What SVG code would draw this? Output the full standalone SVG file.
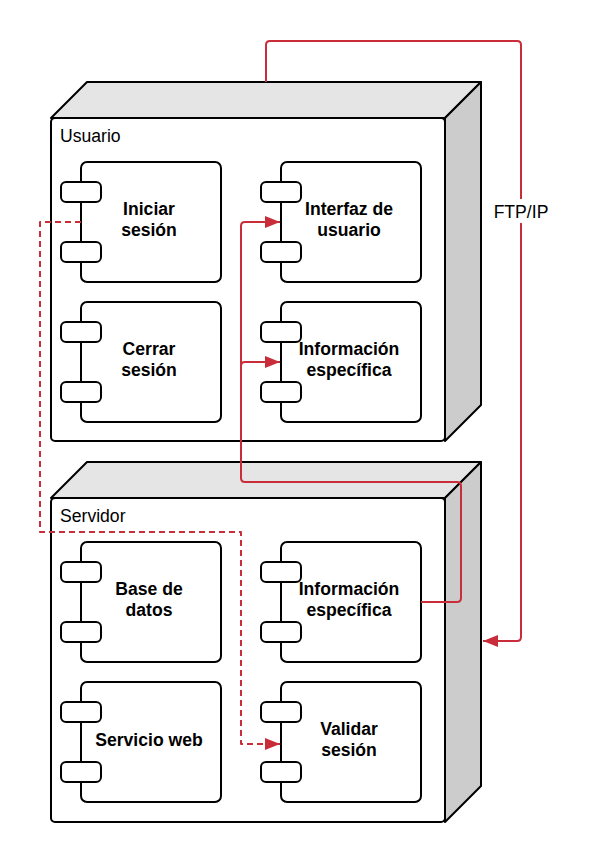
<svg xmlns="http://www.w3.org/2000/svg" width="590" height="862" viewBox="0 0 590 862">
<style>
.face{fill:#fff;stroke:#000;stroke-width:2;stroke-linejoin:round}
.top{fill:#e5e5e5;stroke:#000;stroke-width:2;stroke-linejoin:round}
.side{fill:#cccccc;stroke:#000;stroke-width:2;stroke-linejoin:round}
.comp{fill:#fff;stroke:#000;stroke-width:2}
.port{fill:#fff;stroke:#000;stroke-width:2}
.lbl{font-family:"Liberation Sans",Arial,sans-serif;font-size:17.6px;fill:#000}
.ct{font-family:"Liberation Sans",Arial,sans-serif;font-size:17.6px;font-weight:bold;fill:#000;text-anchor:middle}
.con{fill:none;stroke:#c92d39;stroke-width:2;stroke-linejoin:round}
.dash{stroke-dasharray:6,4}
</style>
<defs>
<marker id="ah" markerWidth="16" markerHeight="12" refX="15" refY="6" orient="auto" markerUnits="userSpaceOnUse">
<path d="M0,0 L15,6 L0,12 Z" fill="#c92d39"/>
</marker>
</defs>
<g id="usuario">
<path class="top" d="M51,118 L87,82 L481,82 L445,118 Z"/>
<path class="side" d="M445,118 L481,82 L481,405 L445,441 Z"/>
<rect class="face" x="51" y="118" width="394" height="323" rx="4"/>
<text class="lbl" x="60" y="142">Usuario</text>
</g>
<g id="servidor">
<path class="top" d="M51,498 L87,462 L481,462 L445,498 Z"/>
<path class="side" d="M445,498 L481,462 L481,786 L445,822 Z"/>
<rect class="face" x="51" y="498" width="394" height="324" rx="4"/>
<text class="lbl" x="60" y="522">Servidor</text>
</g>
<g id="iniciar">
<rect class="comp" x="81" y="162" width="140" height="120" rx="6"/>
<rect class="port" x="61" y="182" width="40" height="20" rx="5"/>
<rect class="port" x="61" y="242" width="40" height="20" rx="5"/>
<text class="ct" x="149" y="215">Iniciar</text>
<text class="ct" x="149" y="236">sesión</text>
</g>
<g id="interfaz">
<rect class="comp" x="281" y="162" width="140" height="120" rx="6"/>
<rect class="port" x="261" y="182" width="40" height="20" rx="5"/>
<rect class="port" x="261" y="242" width="40" height="20" rx="5"/>
<text class="ct" x="349" y="215">Interfaz de</text>
<text class="ct" x="349" y="236">usuario</text>
</g>
<g id="cerrar">
<rect class="comp" x="81" y="302" width="140" height="120" rx="6"/>
<rect class="port" x="61" y="322" width="40" height="20" rx="5"/>
<rect class="port" x="61" y="382" width="40" height="20" rx="5"/>
<text class="ct" x="149" y="355">Cerrar</text>
<text class="ct" x="149" y="376">sesión</text>
</g>
<g id="info-usuario">
<rect class="comp" x="281" y="302" width="140" height="120" rx="6"/>
<rect class="port" x="261" y="322" width="40" height="20" rx="5"/>
<rect class="port" x="261" y="382" width="40" height="20" rx="5"/>
<text class="ct" x="349" y="355">Información</text>
<text class="ct" x="349" y="376">específica</text>
</g>
<g id="basedatos">
<rect class="comp" x="81" y="542" width="140" height="120" rx="6"/>
<rect class="port" x="61" y="562" width="40" height="20" rx="5"/>
<rect class="port" x="61" y="622" width="40" height="20" rx="5"/>
<text class="ct" x="149" y="595">Base de</text>
<text class="ct" x="149" y="616">datos</text>
</g>
<g id="info-servidor">
<rect class="comp" x="281" y="542" width="140" height="120" rx="6"/>
<rect class="port" x="261" y="562" width="40" height="20" rx="5"/>
<rect class="port" x="261" y="622" width="40" height="20" rx="5"/>
<text class="ct" x="349" y="595">Información</text>
<text class="ct" x="349" y="616">específica</text>
</g>
<g id="servicioweb">
<rect class="comp" x="81" y="682" width="140" height="120" rx="6"/>
<rect class="port" x="61" y="702" width="40" height="20" rx="5"/>
<rect class="port" x="61" y="762" width="40" height="20" rx="5"/>
<text class="ct" x="149" y="746">Servicio web</text>
</g>
<g id="validar">
<rect class="comp" x="281" y="682" width="140" height="120" rx="6"/>
<rect class="port" x="261" y="702" width="40" height="20" rx="5"/>
<rect class="port" x="261" y="762" width="40" height="20" rx="5"/>
<text class="ct" x="349" y="735">Validar</text>
<text class="ct" x="349" y="756">sesión</text>
</g>
<g id="connectors">
<path class="con" d="M266,82 L266,45 Q266,41 270,41 L517,41 Q521,41 521,45 L521,637 Q521,641 517,641 L483,641" marker-end="url(#ah)"/>
<rect x="488" y="199" width="66" height="24" fill="#fff"/>
<text class="lbl" x="521" y="218" text-anchor="middle">FTP/IP</text>
<path class="con dash" d="M81,222 L40,222 L40,532 L241,532 L241,744 L280,744" marker-end="url(#ah)"/>
<path class="con" d="M421,602 L457,602 Q461,602 461,598 L461,486 Q461,482 457,482 L245,482 Q241,482 241,478 L241,366 Q241,362 245,362 L280,362" marker-end="url(#ah)"/>
<path class="con" d="M241,366 L241,226 Q241,222 245,222 L280,222" marker-end="url(#ah)"/>
</g>
</svg>
